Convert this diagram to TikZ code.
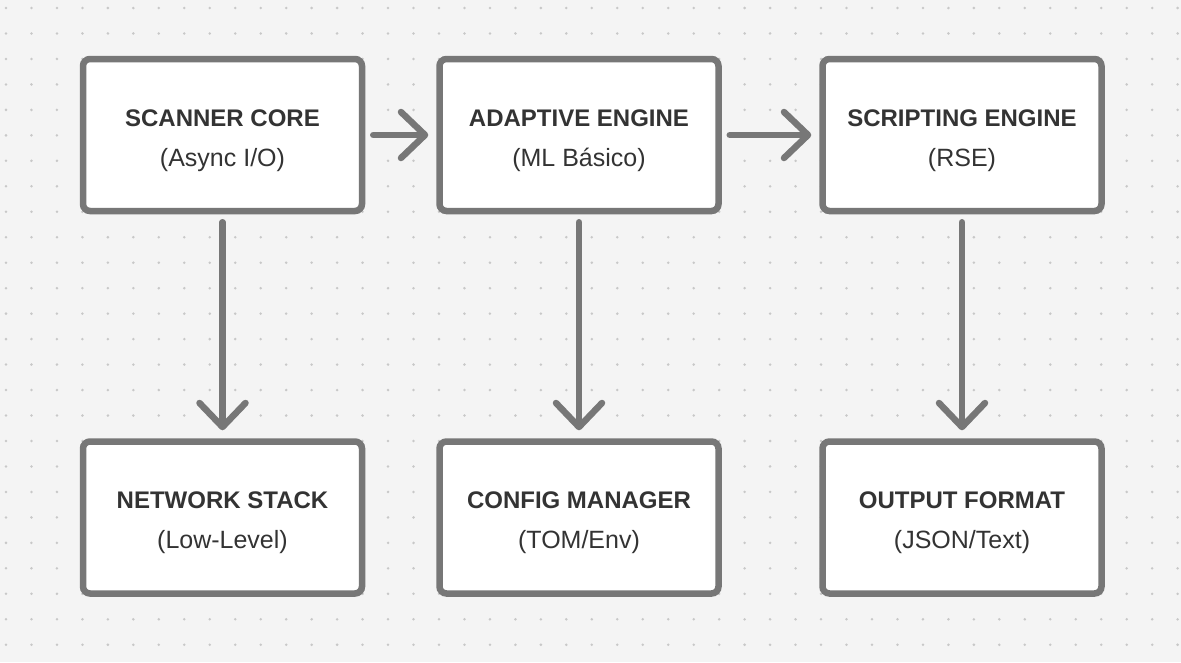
\documentclass[tikz,border=0pt]{standalone}
\usepackage{fontspec}
\setmainfont{Liberation Sans}
\usetikzlibrary{positioning}
\usetikzlibrary{arrows.meta}

\definecolor{canvas}{HTML}{F4F4F4}
\definecolor{griddot}{HTML}{C8C8C8}
\definecolor{boxline}{HTML}{777777}
\definecolor{ink}{HTML}{333333}

\newcommand{\blocktext}[2]{{\rule{0pt}{28pt}\bfseries #1}\\{\fontsize{25}{40}\selectfont #2}}

\begin{document}
\begin{tikzpicture}[x=1pt,y=1pt,
	block/.style={draw=boxline, line width=6.5pt, fill=white, rounded corners=7pt,
		minimum width=279pt, minimum height=152pt, align=center, text=ink, inner sep=0pt,
		font=\fontsize{24}{40}\selectfont},
	flow/.style={draw=boxline, line width=6.5pt, line cap=round,
		-{Straight Barb[length=24pt,width=46pt,round]},
		shorten <=8pt, shorten >=8pt}]
	% background and dot grid
	\fill[canvas] (0,0) rectangle (1181,-662);
	\useasboundingbox (0,0) rectangle (1181,-662);
	\foreach \i in {0,...,46}
		\foreach \j in {0,...,25}
			\fill[griddot] (6+25.47*\i,-8-25.47*\j) circle (1.4);

	\node[block] (scanner) at (222.5,-135) {\blocktext{SCANNER CORE}{(Async I/O)}};
	\node[block] (adaptive) [right=71pt of scanner] {\blocktext{ADAPTIVE ENGINE}{(ML Básico)}};
	\node[block] (scripting) [right=97.5pt of adaptive] {\blocktext{SCRIPTING ENGINE}{(RSE)}};
	\node[block] (network) [below=224pt of scanner] {\blocktext{NETWORK STACK}{(Low-Level)}};
	\node[block] (config) [below=224pt of adaptive] {\blocktext{CONFIG MANAGER}{(TOM/Env)}};
	\node[block] (output) [below=224pt of scripting] {\blocktext{OUTPUT FORMAT}{(JSON/Text)}};

	\draw[flow] (scanner) -- (adaptive);
	\draw[flow] (adaptive) -- (scripting);
	\draw[flow] (scanner) -- (network);
	\draw[flow] (adaptive) -- (config);
	\draw[flow] (scripting) -- (output);
\end{tikzpicture}
\end{document}
